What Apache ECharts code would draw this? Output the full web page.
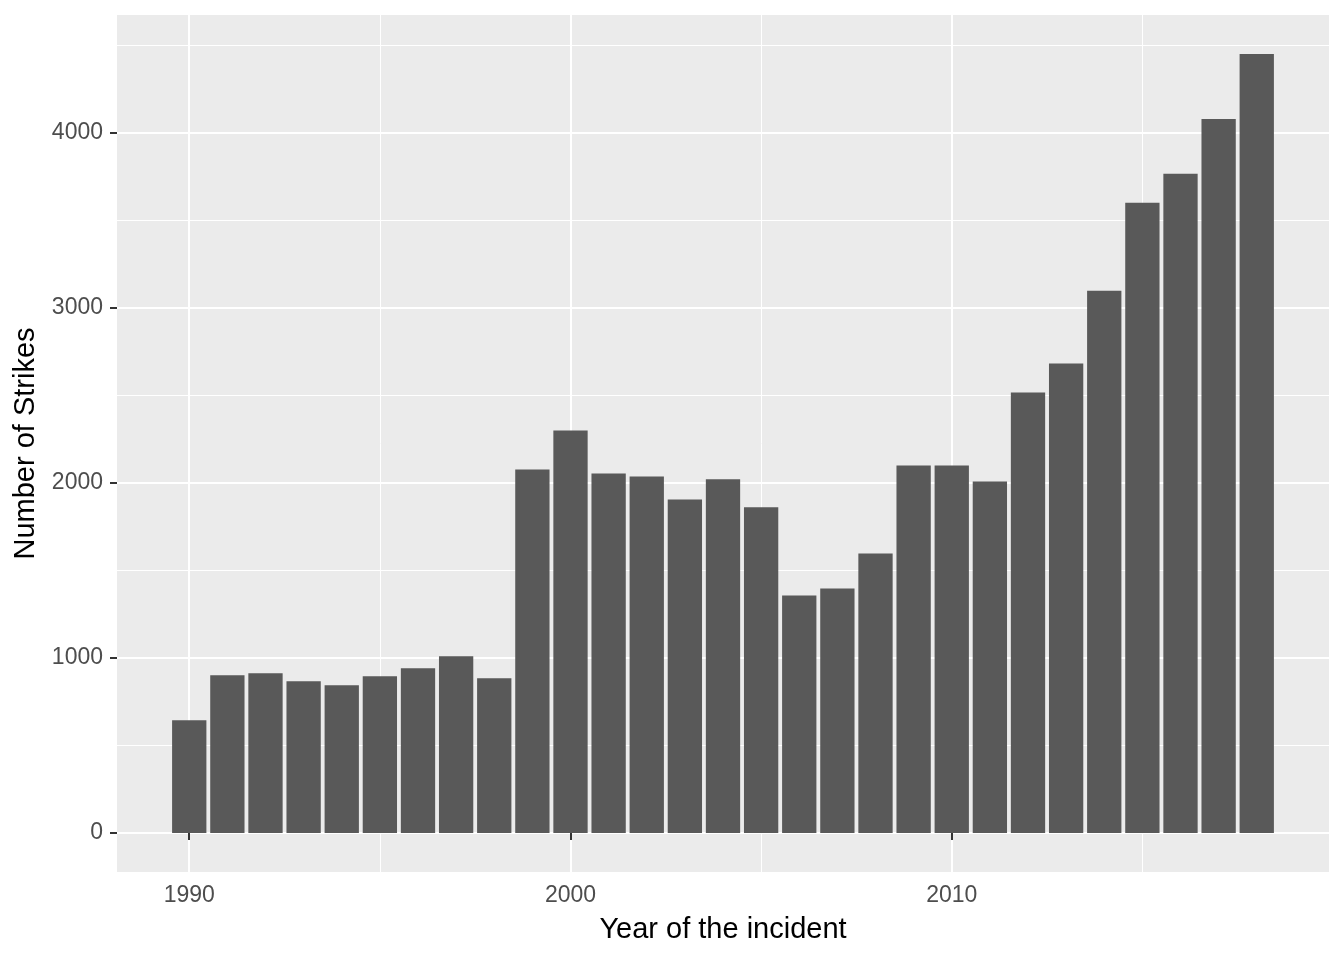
<!DOCTYPE html>
<html>
<head>
<meta charset="utf-8">
<script src="https://cdn.jsdelivr.net/npm/echarts@6/dist/echarts.min.js"></script>
<style>
html,body{margin:0;padding:0;background:#fff;}
#chart{width:1344px;height:960px;}
</style>
</head>
<body>
<div id="chart"></div>
<script>
const years = [1990,1991,1992,1993,1994,1995,1996,1997,1998,1999,2000,2001,2002,2003,2004,2005,2006,2007,2008,2009,2010,2011,2012,2013,2014,2015,2016,2017,2018];
const strikes = [645,902,913,868,845,896,942,1010,885,2078,2300,2055,2038,1906,2021,1861,1358,1398,1598,2100,2100,2009,2517,2683,3099,3602,3767,4081,4452];
const xMajorTicks = [1990,2000,2010];
const xMinorTicks = [1995,2005,2015];
const yMajorTicks = [0,1000,2000,3000,4000];
const yMinorTicks = [500,1500,2500,3500,4500];

const font = '"Liberation Sans", Arial, Helvetica, sans-serif';
const xMin = 1990 - 0.45 - 0.05*(28.9);
const xMax = 2018 + 0.45 + 0.05*(28.9);
const yMaxVal = Math.max(...strikes);
const yMin = -0.05*yMaxVal;
const yMax = yMaxVal*1.05;

const chart = echarts.init(document.getElementById('chart'), null, {renderer:'canvas'});
chart.setOption({
  animation:false,
  backgroundColor:'#ffffff',
  grid:{left:117,right:15,top:15,bottom:88,show:true,backgroundColor:'#EBEBEB',borderWidth:0,containLabel:false},
  xAxis:[
    {type:'value',min:xMin,max:xMax,
     name:'Year of the incident',nameLocation:'middle',nameGap:43,
     nameTextStyle:{fontFamily:font,fontSize:29,color:'#000'},
     axisLine:{show:false},
     axisTick:{show:true,customValues:xMajorTicks,length:7,lineStyle:{color:'#333',width:2}},
     axisLabel:{customValues:xMajorTicks,fontFamily:font,fontSize:23,color:'#4D4D4D',margin:12,formatter:v=>String(v)},
     splitLine:{show:true,lineStyle:{color:'#fff',width:2}}},
    {type:'value',min:xMin,max:xMax,position:'bottom',
     axisLine:{show:false},axisLabel:{show:false},
     axisTick:{show:false,customValues:xMinorTicks},
     splitLine:{show:true,lineStyle:{color:'#fff',width:1}}}
  ],
  yAxis:[
    {type:'value',min:yMin,max:yMax,
     name:'Number of Strikes',nameLocation:'middle',nameGap:75,
     nameTextStyle:{fontFamily:font,fontSize:29,color:'#000'},
     axisLine:{show:false},
     axisTick:{show:true,customValues:yMajorTicks,length:7,lineStyle:{color:'#333',width:2}},
     axisLabel:{customValues:yMajorTicks,fontFamily:font,fontSize:23,color:'#4D4D4D',margin:14,formatter:v=>String(v)},
     splitLine:{show:true,lineStyle:{color:'#fff',width:2}}},
    {type:'value',min:yMin,max:yMax,position:'left',
     axisLine:{show:false},axisLabel:{show:false},
     axisTick:{show:false,customValues:yMinorTicks},
     splitLine:{show:true,lineStyle:{color:'#fff',width:1}}}
  ],
  series:[{
    type:'bar',
    xAxisIndex:0,yAxisIndex:0,
    data:years.map((y,i)=>[y,strikes[i]]),
    barWidth:34.3,
    itemStyle:{color:'#595959'},
    silent:true
  }]
});
</script>
</body>
</html>
